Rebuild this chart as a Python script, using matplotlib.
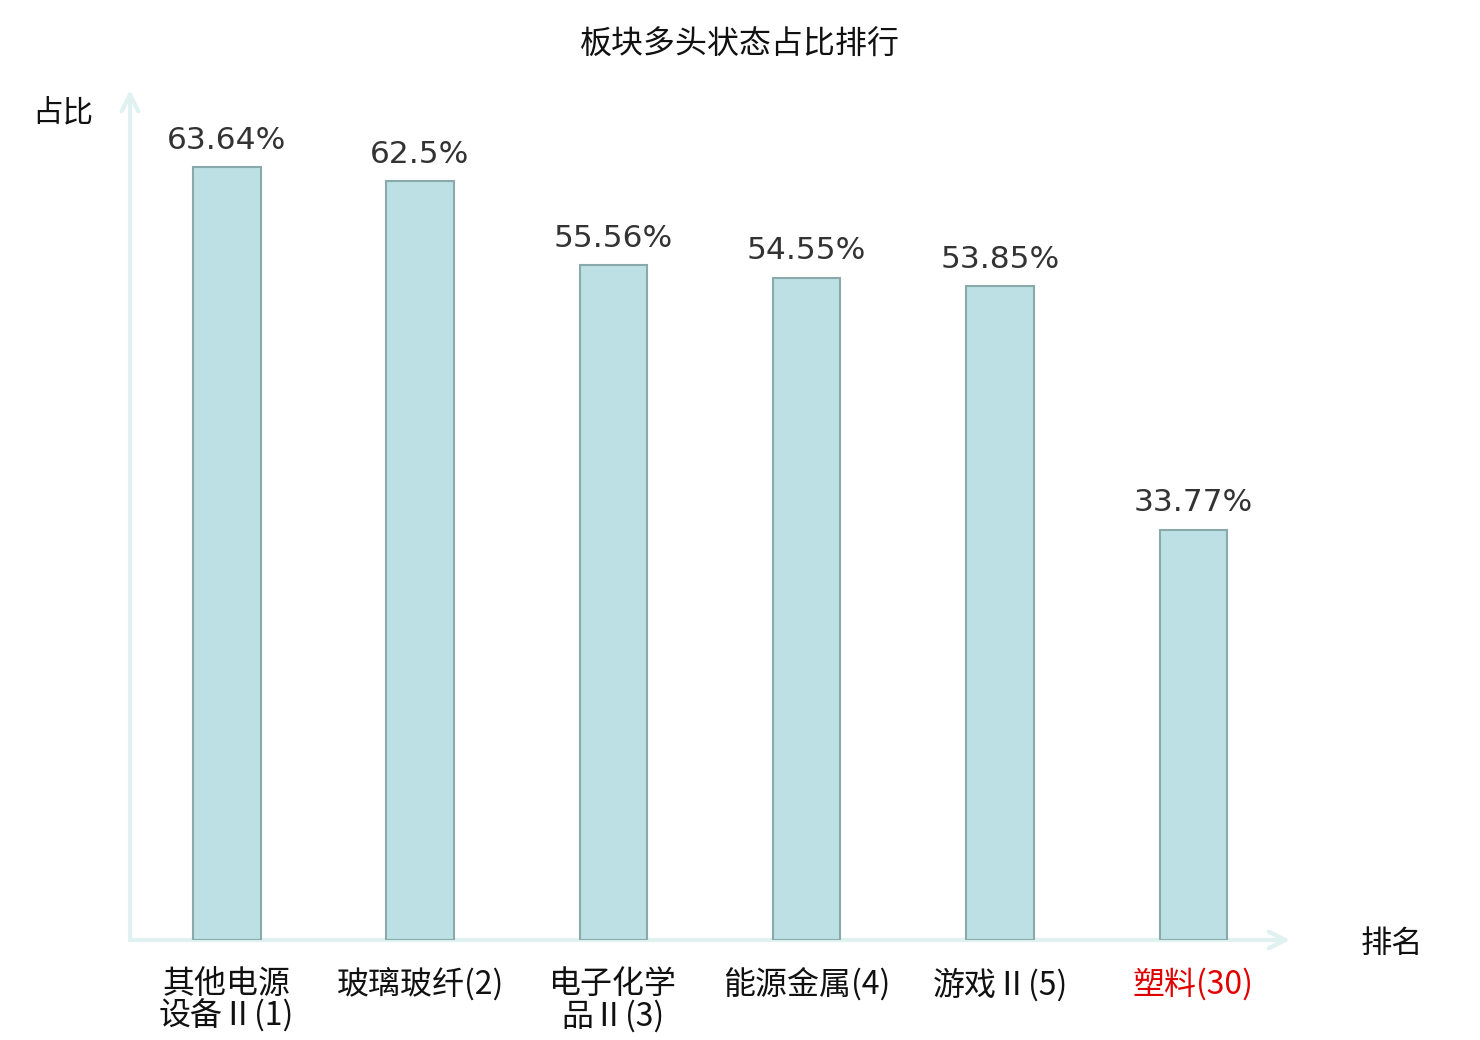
import matplotlib
matplotlib.use("Agg")
import matplotlib.pyplot as plt

plt.rcParams['font.family'] = ['Noto Sans CJK SC', 'DejaVu Sans']

# data
categories = ["其他电源\n设备Ⅱ(1)", "玻璃玻纤(2)", "电子化学\n品Ⅱ(3)", "能源金属(4)", "游戏Ⅱ(5)", "塑料(30)"]
values = [63.64, 62.5, 55.56, 54.55, 53.85, 33.77]
value_labels = ["63.64%", "62.5%", "55.56%", "54.55%", "53.85%", "33.77%"]
label_colors = ["#111111", "#111111", "#111111", "#111111", "#111111", "#e00000"]

axis_color = "#dff1f0"
bar_face = "#bce0e3"
bar_edge = "#8aa9aa"

fig = plt.figure(figsize=(14.8, 10.4), dpi=100)
ax = fig.add_axes([130 / 1480, 100 / 1040, 1160 / 1480, 850 / 1040])

x = list(range(len(categories)))
bars = ax.bar(x, values, width=0.35, color=bar_face, edgecolor=bar_edge, linewidth=1.5, zorder=3)

for b, lab in zip(bars, value_labels):
    ax.annotate(lab, (b.get_x() + b.get_width() / 2, b.get_height()),
                xytext=(0, 9), textcoords="offset points", ha="center", va="bottom",
                fontsize=22.5, color="#333333", family="DejaVu Sans")

ax.set_xlim(-0.5, len(categories) - 0.5)
ax.set_ylim(0, 70)

for s in ax.spines.values():
    s.set_visible(False)

# axis lines with arrows
ax.annotate("", xy=(1.0, 0), xytext=(0, 0), xycoords="axes fraction",
            arrowprops=dict(arrowstyle="->", color=axis_color, lw=3, mutation_scale=30,
                            shrinkA=0, shrinkB=0), zorder=2)
ax.annotate("", xy=(0, 1.0), xytext=(0, 0), xycoords="axes fraction",
            arrowprops=dict(arrowstyle="->", color=axis_color, lw=3, mutation_scale=30,
                            shrinkA=0, shrinkB=0), zorder=2)

ax.set_yticks([])
ax.set_xticks(x)
ax.set_xticklabels(categories, fontsize=23, linespacing=1.0)
ax.tick_params(axis="x", length=0, pad=20)
for t, c in zip(ax.get_xticklabels(), label_colors):
    t.set_color(c)

fig.text(740 / 1480, 1 - 45 / 1040, "板块多头状态占比排行", ha="center", va="center",
         fontsize=23, color="#111111")
fig.text(63 / 1480, 1 - 113 / 1040, "占比", ha="center", va="center", fontsize=22, color="#111111")
fig.text(1392 / 1480, 1 - 944 / 1040, "排名", ha="center", va="center", fontsize=22.5, color="#111111")

fig.savefig("out.png", dpi=100, facecolor="white")
